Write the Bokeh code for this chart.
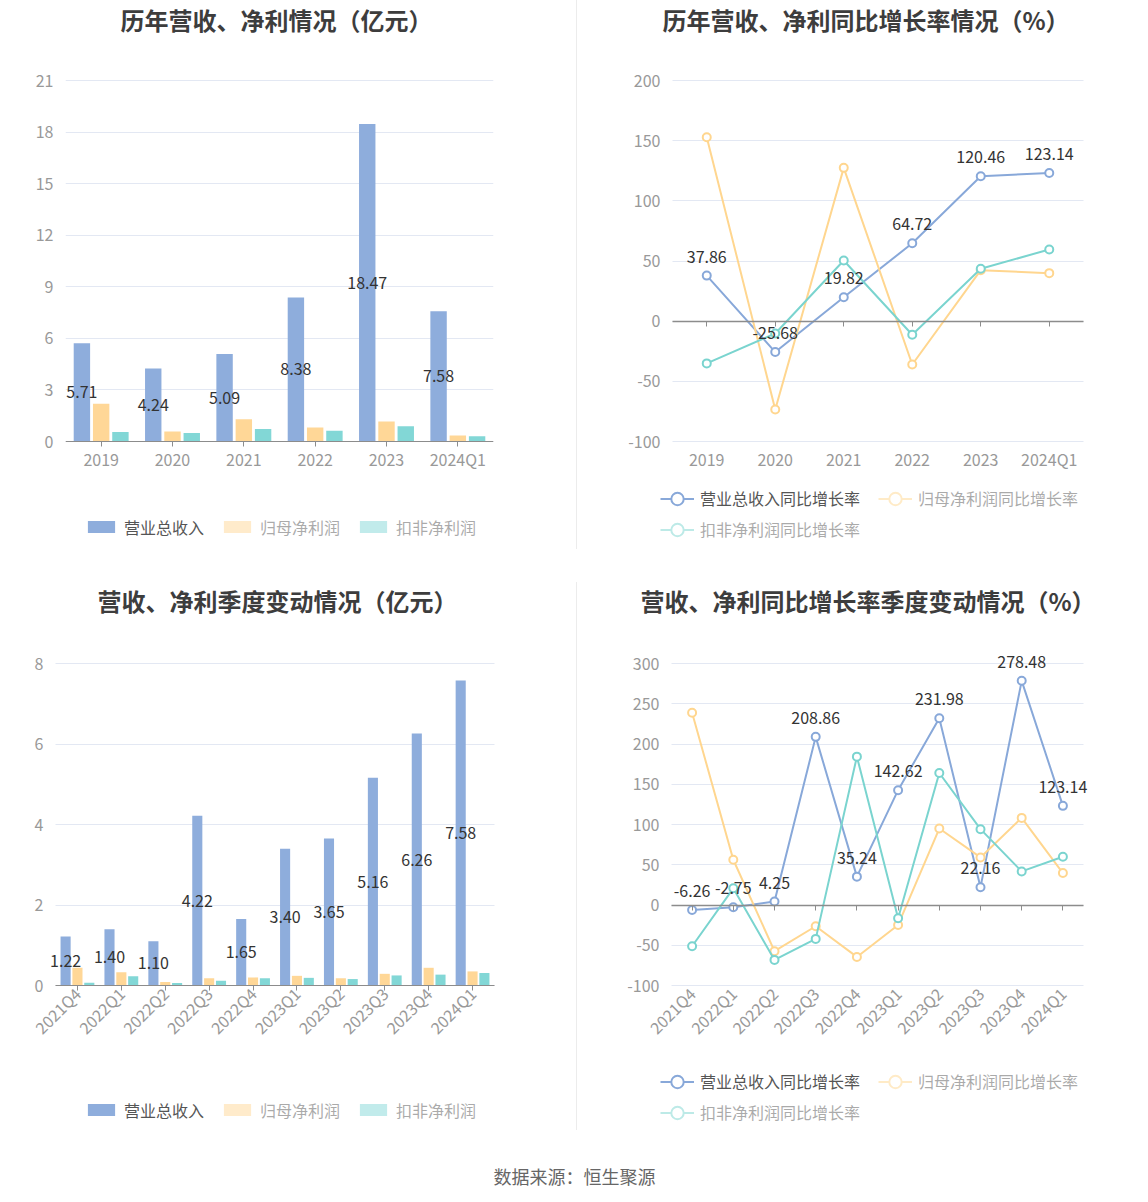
import math
from bokeh.plotting import figure
from bokeh.models import (ColumnDataSource, FactorRange, Range1d, FixedTicker, Legend,
                          LegendItem, LabelSet, CategoricalAxis, Spacer, Label)
from bokeh.layouts import row, column
from bokeh.transform import dodge
from bokeh.core.properties import value
from bokeh.embed import file_html
from bokeh.resources import INLINE

# ---------------- data ----------------
years = ["2019", "2020", "2021", "2022", "2023", "2024Q1"]
revenue = [5.71, 4.24, 5.09, 8.38, 18.47, 7.58]
net_profit = [2.19, 0.58, 1.30, 0.81, 1.16, 0.35]
deducted_profit = [0.55, 0.49, 0.72, 0.62, 0.89, 0.31]

revenue_yoy = [37.86, -25.68, 19.82, 64.72, 120.46, 123.14]
net_profit_yoy = [152.9, -73.4, 127.4, -36.0, 42.4, 39.9]
deducted_yoy = [-35.1, -10.2, 50.4, -11.3, 43.5, 59.6]

quarters = ["2021Q4", "2022Q1", "2022Q2", "2022Q3", "2022Q4",
            "2023Q1", "2023Q2", "2023Q3", "2023Q4", "2024Q1"]
revenue_q = [1.22, 1.40, 1.10, 4.22, 1.65, 3.40, 3.65, 5.16, 6.26, 7.58]
net_profit_q = [0.44, 0.33, 0.09, 0.18, 0.20, 0.24, 0.18, 0.29, 0.44, 0.35]
deducted_q = [0.07, 0.23, 0.06, 0.12, 0.18, 0.19, 0.16, 0.25, 0.27, 0.31]

revenue_q_yoy = [-6.26, -2.75, 4.25, 208.86, 35.24, 142.62, 231.98, 22.16, 278.48, 123.14]
net_profit_q_yoy = [238.9, 56.2, -57.4, -26.4, -64.5, -24.8, 95.0, 59.1, 108.2, 39.7]
deducted_q_yoy = [-51.2, 20.7, -68.2, -42.1, 184.3, -16.5, 164.0, 94.2, 41.7, 59.9]

ticks_bar_year = [0, 3, 6, 9, 12, 15, 18, 21]
ticks_bar_q = [0, 2, 4, 6, 8]
ticks_yoy_year = [-100, -50, 0, 50, 100, 150, 200]
ticks_yoy_q = [-100, -50, 0, 50, 100, 150, 200, 250, 300]

series_names = ["营业总收入", "归母净利润", "扣非净利润"]
yoy_names = ["营业总收入同比增长率", "归母净利润同比增长率", "扣非净利润同比增长率"]

# ---------------- style ----------------
FONT = "Noto Sans CJK SC"
C_REV, C_NP, C_DN = "#8eaddc", "#ffd797", "#82d7d6"
L_REV, L_NP, L_DN = "#88a8d9", "#ffd68f", "#7ad4cf"
GRID = "#e3e8f3"
AXIS = "#8c8c8c"
TICKLBL = "#999999"


def make_fig(w, h, cats, yticks, gx0, gx1, gy0, gy1, top, pad, title, toff, tstand):
    """Value grid spans local pixels gx0..gx1 / gy0..gy1. The frame reaches from `top`
    to the figure bottom and `pad` pixels beyond the grid on both sides."""
    n = len(cats)
    cw = (gx1 - gx0) / n
    v_top, v_bot = yticks[-1], yticks[0]
    k = (v_top - v_bot) / (gy1 - gy0)
    y_hi = v_top + (gy0 - top) * k
    y_lo = v_bot - (h - gy1) * k
    xr = FactorRange(*cats, range_padding=pad / cw, range_padding_units="absolute")
    p = figure(width=w, height=h, x_range=xr, y_range=Range1d(y_lo, y_hi),
               output_backend="svg", toolbar_location=None, title=title,
               min_border_left=gx0 - pad, min_border_right=w - gx1 - pad,
               min_border_top=top, min_border_bottom=0)
    p.outline_line_color = None
    p.xgrid.grid_line_color = None
    ya = p.yaxis[0]
    ya.ticker = FixedTicker(ticks=yticks)
    ya.axis_line_color = None
    ya.minor_tick_line_color = None
    ya.major_label_standoff = 12
    ya.major_label_text_color = TICKLBL
    ya.major_label_text_font = FONT
    ya.major_label_text_font_size = "16px"
    ya.major_label_overrides = {t: str(t) for t in yticks if t < 0}
    ya.major_tick_out = 0
    if pad > 0:
        # axis pinned to the grid's left edge; its inward ticks act as the grid lines
        p.ygrid.visible = False
        ya.fixed_location = 0
        ya.level = "underlay"
        ya.major_tick_in = gx1 - gx0
        ya.major_tick_line_color = GRID
    else:
        p.ygrid.grid_line_color = GRID
        p.ygrid.ticker = FixedTicker(ticks=yticks)
        ya.major_tick_in = 0
        ya.major_tick_line_color = None
    ax = p.xaxis[0]
    ax.fixed_location = 0
    ax.bounds = (0, n)
    ax.axis_line_color = AXIS
    ax.major_tick_line_color = AXIS
    ax.major_tick_in = 0
    ax.major_tick_out = 5
    ax.major_label_standoff = 0
    ax.major_label_text_color = TICKLBL
    ax.major_label_text_font = FONT
    ax.major_label_text_font_size = "16px"
    p.title.align = "left"
    p.title.vertical_align = "top"
    p.title.offset = toff
    p.title.standoff = tstand
    p.title.text_font = FONT
    p.title.text_font_size = "24px"
    p.title.text_font_style = "bold"
    p.title.text_color = "#3d3d3d"
    return p


def make_legend(items, x, y, gh, spacing):
    return Legend(items=items, location=(x, y), click_policy="hide",
                  orientation="horizontal", glyph_width=34, glyph_height=gh, label_height=gh,
                  label_standoff=6, padding=0, margin=0, spacing=spacing,
                  border_line_color=None, background_fill_alpha=0,
                  label_text_font=FONT, label_text_font_size="16px", label_text_color="#555555",
                  inactive_fill_color="white", inactive_fill_alpha=0.5)


def bar_chart(p, cats, rev, np_, dn, off, bw, leg_x, leg_y):
    src = ColumnDataSource(dict(cat=cats, rev=rev, np=np_, dn=dn,
                                mid=[v / 2 for v in rev], lbl=[f"{v:.2f}" for v in rev]))
    rends = []
    for key, col, o in [("rev", C_REV, -off), ("np", C_NP, 0.0), ("dn", C_DN, off)]:
        r = p.vbar(x=dodge("cat", o, range=p.x_range), top=key, width=bw, source=src,
                   fill_color=col, line_color=None)
        d = p.vbar(x=dodge("cat", o, range=p.x_range), top=key, width=bw, source=src,
                   fill_color=col, line_color=None, visible=False)
        rends.append((r, d))
    p.text(x=dodge("cat", -off, range=p.x_range), y="mid", text="lbl", source=src,
           text_align="center", text_baseline="middle", text_font=value(FONT),
           text_font_size="16px", text_color="#333333")
    items = [LegendItem(label=series_names[0], renderers=[rends[0][0]]),
             LegendItem(label=series_names[1], renderers=[rends[1][1]]),
             LegendItem(label=series_names[2], renderers=[rends[2][1]])]
    p.add_layout(make_legend(items, leg_x, leg_y, 15, 16))


def line_chart(p, cats, rev, np_, dn, bottom_value, leg_x, leg_sp, leg_y1, leg_y2):
    src = ColumnDataSource(dict(cat=cats, rev=rev, np=np_, dn=dn,
                                lbl=[f"{v:.2f}" for v in rev]))
    main = p.xaxis[0]
    main.fixed_location = bottom_value
    main.axis_line_color = None
    main.major_tick_line_color = None
    z = CategoricalAxis(fixed_location=0, bounds=(0, len(cats)), axis_line_color=AXIS,
                        axis_line_width=1.5, major_tick_line_color=AXIS,
                        major_tick_in=0, major_tick_out=5,
                        major_label_overrides={c: " " for c in cats},
                        major_label_standoff=0, major_label_text_font_size="1px",
                        major_label_text_alpha=0)
    p.add_layout(z, "below")
    rends = {}
    for key, col in [("rev", L_REV), ("np", L_NP), ("dn", L_DN)]:
        l = p.line("cat", key, source=src, line_color=col, line_width=2)
        s = p.scatter("cat", key, source=src, marker="circle", size=8, fill_color="white",
                      line_color=col, line_width=2)
        ld = p.line("cat", key, source=src, line_color=col, line_width=2, visible=False)
        sd = p.scatter("cat", key, source=src, marker="circle", size=8, fill_color="white",
                       line_color=col, line_width=2, visible=False)
        rends[key] = ([l, s], [ld, sd])
    labels = LabelSet(x="cat", y="rev", text="lbl", source=src, y_offset=13,
                      text_align="center", text_baseline="bottom", text_font=value(FONT),
                      text_font_size="16px", text_color="#333333")
    p.add_layout(labels)
    row1 = [LegendItem(label=yoy_names[0], renderers=rends["rev"][0]),
            LegendItem(label=yoy_names[1], renderers=rends["np"][1])]
    row2 = [LegendItem(label=yoy_names[2], renderers=rends["dn"][1])]
    p.add_layout(make_legend(row1, leg_x, leg_y1, 31, leg_sp))
    p.add_layout(make_legend(row2, leg_x, leg_y2, 31, leg_sp))


# ---------------- panels ----------------
# top-left: annual bars (frame x 65..493, grid y 80..441)
p1 = make_fig(576, 565, years, ticks_bar_year, 65, 493, 80, 441, 38, 0,
              "历年营收、净利情况（亿元）", 55, 0)
bar_chart(p1, years, revenue, net_profit, deducted_profit, 0.27, 0.23, 19, 26.5)

# top-right: annual growth lines (page x 577..1140)
p2 = make_fig(563, 565, years, ticks_yoy_year, 95, 506, 80, 441, 38, 50,
              "历年营收、净利同比增长率情况（%）", 40, 0)
line_chart(p2, years, revenue_yoy, net_profit_yoy, deducted_yoy, ticks_yoy_year[0],
           38, 18, 51.5, 20.5)

# bottom-left: quarterly bars (page y 565..1148)
p3 = make_fig(576, 583, quarters, ticks_bar_q, 55, 494, 98, 420, 70, 50,
              "营收、净利季度变动情况（亿元）", 92, 32)
p3.xaxis.major_label_orientation = math.pi / 4
bar_chart(p3, quarters, revenue_q, net_profit_q, deducted_q, 0.27, 0.23, 79, 26.5)

# bottom-right: quarterly growth lines
p4 = make_fig(563, 583, quarters, ticks_yoy_q, 94, 506, 98, 420, 70, 50,
              "营收、净利同比增长率季度变动情况（%）", 19, 32)
p4.xaxis[0].major_label_orientation = math.pi / 4
line_chart(p4, quarters, revenue_q_yoy, net_profit_q_yoy, deducted_q_yoy, ticks_yoy_q[0],
           39, 18, 51.5, 20.5)

sep1 = Spacer(width=1, height=549, styles={"background-color": "#ececec"})
sep2 = Spacer(width=1, height=548, margin=(17, 0, 0, 0), styles={"background-color": "#ececec"})

footer = figure(width=1140, height=46, x_range=Range1d(0, 1), y_range=Range1d(0, 1),
                output_backend="svg", toolbar_location=None, min_border=0,
                x_axis_location=None, y_axis_location=None)
footer.outline_line_color = None
footer.grid.grid_line_color = None
footer.add_layout(Label(x=0.5035, y=0.41, text="数据来源：恒生聚源", text_align="center",
                        text_baseline="middle", text_font=FONT, text_font_size="18px",
                        text_color="#666666"))

layout = column(row(p1, sep1, p2), row(p3, sep2, p4), footer)

with open("out.html", "w") as f:
    f.write(file_html(layout, INLINE))
